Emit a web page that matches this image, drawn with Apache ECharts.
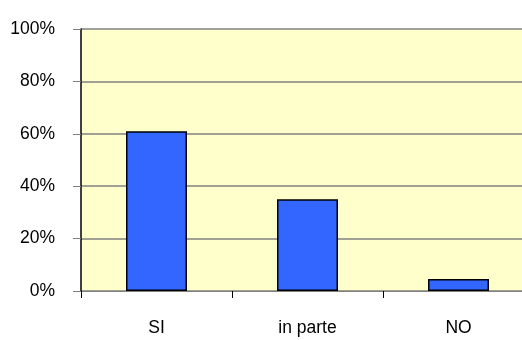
<!DOCTYPE html>
<html>
<head>
<meta charset="utf-8">
<script src="https://cdn.jsdelivr.net/npm/echarts@6/dist/echarts.min.js"></script>
<style>
  html, body { margin: 0; padding: 0; background: #fff; }
  #chart { width: 522px; height: 340px; }
</style>
</head>
<body>
<div id="chart"></div>
<script>
// categorie e valori (percentuali)
var categories = ['SI', 'in parte', 'NO'];
var values = [61, 35, 4.6];
var yTicks = [0, 20, 40, 60, 80, 100];

var chart = echarts.init(document.getElementById('chart'));

chart.setOption({
  animation: false,
  textStyle: { fontFamily: 'Liberation Sans Narrow, Liberation Sans, Arial' },
  grid: {
    left: 81,
    top: 29,
    width: 453,
    height: 262,
    outerBoundsMode: 'none',
    show: true,
    backgroundColor: '#FFFFCC',
    borderWidth: 0
  },
  xAxis: {
    type: 'category',
    data: categories,
    axisLine: { show: true, lineStyle: { color: '#808080', width: 1 } },
    axisTick: { show: true, alignWithLabel: false, length: 7, lineStyle: { color: '#000' } },
    axisLabel: { color: '#000', fontSize: 17.5, margin: 28 },
    splitLine: { show: false }
  },
  yAxis: {
    type: 'value',
    min: yTicks[0],
    max: yTicks[yTicks.length - 1],
    interval: 20,
    axisLine: { show: true, lineStyle: { color: '#000', width: 1.5 } },
    axisTick: { show: true, inside: false, length: 8, lineStyle: { color: '#808080' } },
    axisLabel: { color: '#000', fontSize: 17.5, margin: 26, padding: [0, 0, 4, 0], formatter: '{value}%' },
    splitLine: { show: true, lineStyle: { color: '#808080', width: 1.5 } }
  },
  series: [{
    type: 'bar',
    data: values,
    barWidth: 61,
    itemStyle: {
      color: '#3366FF',
      borderColor: '#000',
      borderWidth: 1.5
    }
  }]
});
</script>
</body>
</html>
